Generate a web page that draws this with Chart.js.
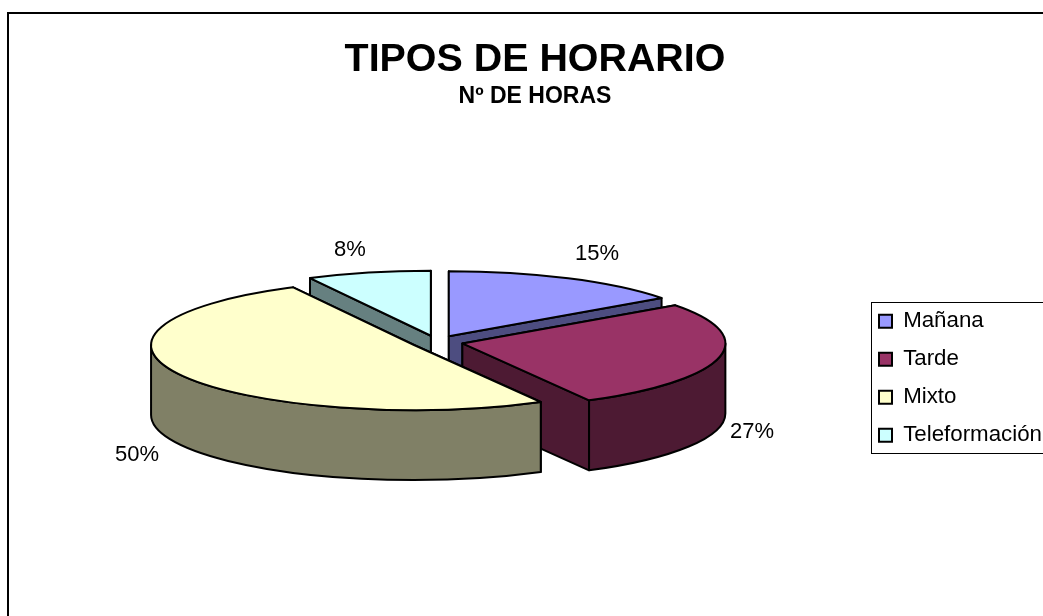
<!DOCTYPE html>
<html>
<head>
<meta charset="utf-8">
<style>
  html, body { margin: 0; background: #fff; overflow: hidden; }
  #myChart { display: block; }
</style>
<script src="https://cdn.jsdelivr.net/npm/chart.js@4"></script>
</head>
<body>
<canvas id="myChart" width="1043" height="616"></canvas>
<script>
const categorias = ['Mañana', 'Tarde', 'Mixto', 'Teleformación'];
const horas = [15, 27, 50.4, 7.6];
const colores = ['#9999FF', '#993366', '#FFFFCC', '#CCFFFF'];
const coloresLado = ['#4D4D80', '#4D1A33', '#808066', '#668080'];
const titulo = 'TIPOS DE HORARIO';
const subtitulo = 'Nº DE HORAS';

// Posición de las etiquetas de porcentaje (centro del texto)
const posEtiquetas = [[597, 254], [752, 432], [137, 455], [350, 250]];

// Orden de pintado: de atrás hacia delante
const ordenPintado = [3, 0, 1, 2];

// Geometría de la tarta en perspectiva
const centroX = 437;
const centroY = 342;
const radioX = 263;
const radioY = 65;
const altura = 70;
const separacion = 26;

const fuente = 'Arial, "Liberation Sans", sans-serif';

const dibujarCara = (ctx, relleno, trazar) => {
  ctx.beginPath();
  trazar();
  ctx.closePath();
  ctx.fillStyle = relleno;
  ctx.fill();
  ctx.stroke();
};

const dibujarPorcion = (ctx, arco, indice) => {
  const a = arco.startAngle;
  const b = arco.endAngle;
  const medio = (a + b) / 2;
  const x = centroX + Math.cos(medio) * separacion;
  const y = centroY + Math.sin(medio) * separacion * radioY / radioX;
  const borde = (ang) => [x + Math.cos(ang) * radioX, y + Math.sin(ang) * radioY];

  // Caras de corte, primero la de más atrás
  const cortes = [a, b].sort((p, q) => Math.sin(p) - Math.sin(q));
  cortes.forEach((ang) => {
    const [ex, ey] = borde(ang);
    dibujarCara(ctx, coloresLado[indice], () => {
      ctx.moveTo(x, y);
      ctx.lineTo(ex, ey);
      ctx.lineTo(ex, ey + altura);
      ctx.lineTo(x, y + altura);
    });
  });

  // Pared exterior, sólo la mitad delantera (ángulos 0..PI)
  const ini = Math.max(a, 0);
  const fin = Math.min(b, Math.PI);
  if (fin > ini) {
    dibujarCara(ctx, coloresLado[indice], () => {
      ctx.ellipse(x, y, radioX, radioY, 0, ini, fin);
      ctx.ellipse(x, y + altura, radioX, radioY, 0, fin, ini, true);
    });
  }

  // Cara superior
  dibujarCara(ctx, colores[indice], () => {
    ctx.moveTo(x, y);
    ctx.ellipse(x, y, radioX, radioY, 0, a, b);
  });
};

const tarta3d = {
  id: 'tarta3d',
  beforeDraw(chart) {
    const { ctx } = chart;
    // Marco del gráfico: sólo se ven los lados izquierdo y superior
    ctx.save();
    ctx.strokeStyle = '#000';
    ctx.lineWidth = 2;
    ctx.beginPath();
    ctx.moveTo(8, 616);
    ctx.lineTo(8, 13);
    ctx.lineTo(1043, 13);
    ctx.stroke();
    // Marco de la leyenda
    ctx.lineWidth = 1;
    ctx.strokeRect(871.5, 302.5, 200, 151);
    ctx.restore();
  },
  afterLayout(chart) {
    // La leyenda va fuera del centro vertical
    const leyenda = chart.legend;
    leyenda.left = 863.3;
    leyenda.right = 1043;
    leyenda.top = 294.5;
    leyenda.bottom = 600;
  },
  beforeDatasetsDraw(chart) {
    const { ctx } = chart;
    const arcos = chart.getDatasetMeta(0).data;
    ctx.save();
    ctx.strokeStyle = '#000';
    ctx.lineWidth = 2;
    ctx.lineJoin = 'round';
    ordenPintado.forEach((i) => dibujarPorcion(ctx, arcos[i], i));
    ctx.restore();

    // Etiquetas de porcentaje
    const total = horas.reduce((s, v) => s + v, 0);
    ctx.save();
    ctx.fillStyle = '#000';
    ctx.font = '22px ' + fuente;
    ctx.textAlign = 'center';
    ctx.textBaseline = 'middle';
    horas.forEach((v, i) => {
      ctx.fillText(Math.round(v / total * 100) + '%', posEtiquetas[i][0], posEtiquetas[i][1]);
    });
    ctx.restore();
    return false;
  },
};

const ctx = document.querySelector('#myChart').getContext('2d');

new Chart(ctx, {
  type: 'pie',
  data: {
    labels: categorias,
    datasets: [{
      data: horas,
      backgroundColor: colores,
      borderColor: '#000',
      borderWidth: 2,
    }],
  },
  options: {
    responsive: false,
    animation: false,
    layout: { padding: { left: 27 } },
    plugins: {
      title: {
        display: true,
        text: titulo,
        color: '#000',
        font: { family: fuente, size: 39.4, weight: 'bold' },
        padding: { top: 36.4, bottom: 0.6 },
      },
      subtitle: {
        display: true,
        text: subtitulo,
        color: '#000',
        font: { family: fuente, size: 23, weight: 'bold', lineHeight: 1.1 },
        padding: { top: 0, bottom: 0 },
      },
      legend: {
        position: 'right',
        align: 'start',
        labels: {
          color: '#000',
          font: { family: fuente, size: 22.3 },
          boxWidth: 13,
          boxHeight: 13,
          padding: 15.7,
        },
      },
    },
  },
  plugins: [tarta3d],
});
</script>
</body>
</html>
